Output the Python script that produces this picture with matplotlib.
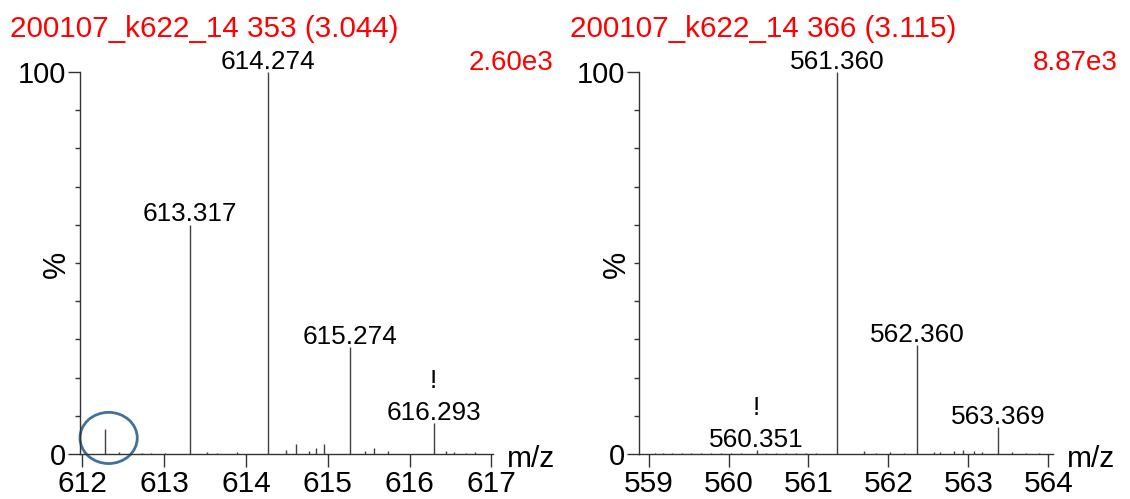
import numpy as np
import matplotlib
matplotlib.use("Agg")
import matplotlib.pyplot as plt
from matplotlib.patches import Ellipse

plt.rcParams['font.family'] = ['Liberation Sans', 'DejaVu Sans']

# --- scan 353 ---
left_title = "200107_k622_14 353 (3.044)"
left_scale = "2.60e3"
left_mz = [612.278, 612.45, 612.73, 612.84, 613.01, 613.317, 613.52, 613.65, 613.89,
           614.274, 614.49, 614.61, 614.77, 614.85, 614.95, 615.274, 615.46, 615.56,
           615.74, 616.293, 616.44, 616.54, 616.69, 616.80]
left_int = [6.6, 0.4, 0.3, 0.3, 0.3, 60.0, 0.5, 0.3, 0.5,
            100.0, 1.1, 2.6, 0.8, 1.6, 2.6, 28.0, 0.8, 1.7,
            0.8, 8.1, 0.8, 0.4, 0.3, 0.4]
left_labels = [614.274, 613.317, 615.274, 616.293]
left_flagged = [616.293]
left_ticks = [612, 613, 614, 615, 616, 617]

# --- scan 366 ---
right_title = "200107_k622_14 366 (3.115)"
right_scale = "8.87e3"
right_mz = [559.08, 559.18, 559.29, 559.42, 559.53, 559.66, 559.78, 559.91, 560.03,
            560.15, 560.351, 560.47, 560.60, 560.72, 560.85, 560.97, 561.10, 561.360,
            561.69, 561.85, 562.02, 562.19, 562.360, 562.57, 562.64, 562.82, 562.94,
            563.07, 563.17, 563.369, 563.55, 563.72, 563.89]
right_int = [0.3, 0.3, 0.3, 0.3, 0.3, 0.3, 0.3, 0.3, 0.3,
             0.3, 1.0, 0.3, 0.3, 0.3, 0.3, 0.3, 0.3, 100.0,
             0.9, 0.3, 0.5, 0.3, 28.5, 0.5, 0.5, 0.8, 1.0,
             0.8, 0.5, 7.0, 0.5, 0.3, 0.3]
right_labels = [561.360, 562.360, 563.369, 560.351]
right_flagged = [560.351]
right_ticks = [559, 560, 561, 562, 563, 564]

W, H = 1130, 499
fig = plt.figure(figsize=(W / 100, H / 100), dpi=100)

line_col = '#404040'
red = '#ff0000'


def px(x, y):
    return x / W, 1 - y / H


def spectrum(rect, mz, inten, labels, flagged, ticks, xlim, title, scale, title_x, scale_x, mz_x):
    ax = fig.add_axes(rect)
    ax.vlines(mz, 0, inten, color=line_col, lw=1.0, clip_on=False)
    ax.set_xlim(*xlim)
    ax.set_ylim(0, 100)
    for s in ('top', 'right'):
        ax.spines[s].set_visible(False)
    for s in ('left', 'bottom'):
        ax.spines[s].set_color('#333333')
        ax.spines[s].set_linewidth(1.0)
    ax.set_xticks(ticks)
    ax.set_xticklabels([str(t) for t in ticks])
    ax.set_yticks([0, 100])
    ax.set_yticklabels(['0', '100'])
    ax.set_yticks(np.arange(10, 100, 10), minor=True)
    ax.tick_params(axis='x', direction='out', length=9, width=1, labelsize=21.5, pad=2.5,
                   color='#333333')
    ax.tick_params(axis='y', which='major', direction='out', length=9, width=1,
                   labelsize=21, pad=1, color='#333333')
    ax.tick_params(axis='y', which='minor', direction='out', length=3.8, width=1,
                   color='#333333')

    lookup = dict(zip(mz, inten))
    for m in labels:
        h = lookup[m]
        ax.annotate(f"{m:.3f}", (m, h), xytext=(0, 2.5), textcoords='offset points',
                    ha='center', va='baseline', fontsize=18.8, annotation_clip=False)
        if m in flagged:
            ax.annotate("!", (m, h), xytext=(0, 25), textcoords='offset points',
                        ha='center', va='baseline', fontsize=18.8, annotation_clip=False)

    fig.text(*px(title_x, 37), title, color=red, fontsize=21.3, ha='left', va='baseline')
    fig.text(*px(scale_x, 70), scale, color=red, fontsize=20, ha='right', va='baseline')
    fig.text(*px(mz_x, 467), "m/z", fontsize=21.5, ha='left', va='baseline')
    fig.text(*px(title_x + 47, 264), "%", fontsize=22, rotation=90, ha='center', va='center')
    return ax


ax1 = spectrum([80 / W, 45 / H, 413 / W, 382 / H], left_mz, left_int, left_labels,
               left_flagged, left_ticks, (611.97, 617.02), left_title, left_scale,
               10, 553, 507)
ax2 = spectrum([639 / W, 45 / H, 414 / W, 382 / H], right_mz, right_int, right_labels,
               right_flagged, right_ticks, (558.88, 564.06), right_title, right_scale,
               570, 1118, 1067)

# highlight the small peak at the low-mass end
ax1.add_patch(Ellipse((612.32, 4.2), 0.70, 13.4, fill=False, edgecolor='#41719c',
                      lw=2.0, clip_on=False))

fig.savefig("out.png", dpi=100)
